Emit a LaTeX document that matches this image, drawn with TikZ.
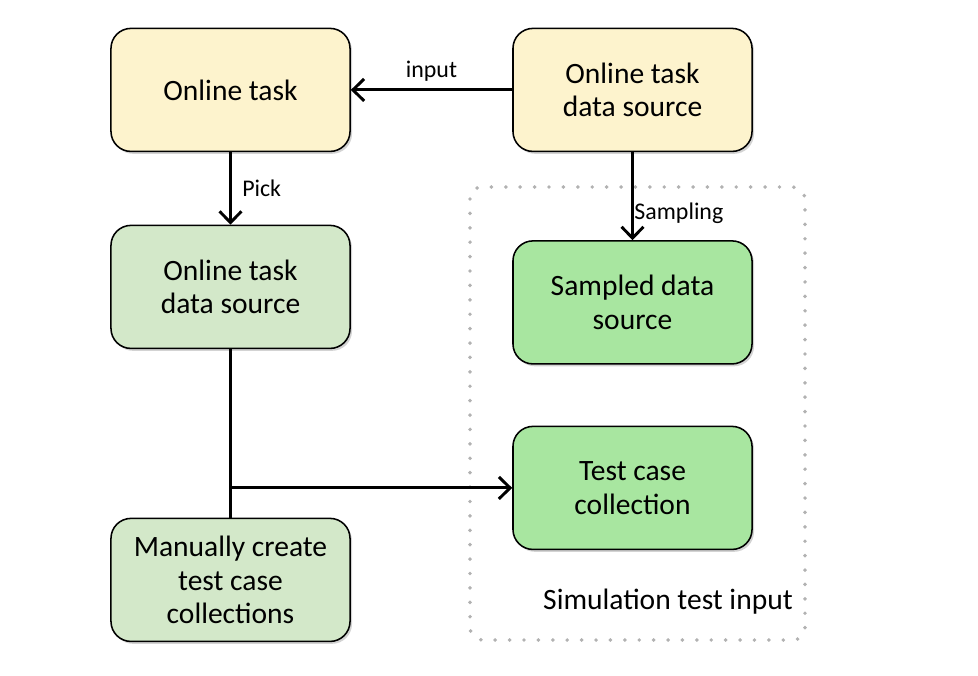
\documentclass[tikz,border=0pt]{standalone}
\usepackage{fontspec}
\setmainfont{Carlito}
\usetikzlibrary{positioning,arrows.meta,shadows}
\definecolor{taskyellow}{RGB}{253,243,205}
\definecolor{palegreen}{RGB}{211,232,201}
\definecolor{brightgreen}{RGB}{168,230,160}
\begin{document}
\begin{tikzpicture}[x=0.025cm,y=-0.025cm,>={Straight Barb[length=2.8mm,width=5.5mm]},
font=\fontsize{21}{24}\selectfont]
   \tikzstyle{box}=[rectangle,rounded corners=0.5cm,draw=black,line width=1.1pt,
      minimum width=5.975cm,minimum height=3.075cm,align=center,yshift=-1pt,
      drop shadow={shadow xshift=0.5mm,shadow yshift=-0.6mm,opacity=0.35}]
   \tikzstyle{conn}=[line width=2.1pt]
   \tikzstyle{lbl}=[font=\fontsize{17}{20}\selectfont]
\useasboundingbox (0,0) rectangle (978,676);
\node[box, fill=taskyellow]  (task)   at (230.5,88.5)  {Online task};
\node[box, fill=taskyellow]  (source) at (632.5,88.5)  {Online task\\data source};
\node[box, fill=palegreen]   (picked) at (230.5,285.5) {Online task\\data source};
\node[box, fill=brightgreen] (sampled) at (632.5,301)  {Sampled data\\source};
\node[box, fill=brightgreen] (tests)  at (632.5,486.5) {Test case\\collection};
\node[box, fill=palegreen]   (manual) at (230.5,578.5) {Manually create\\test case\\collections};

% dotted frame
\draw[gray!60, line width=2.8pt, line cap=round, dash pattern=on 0pt off 0.36cm,
   rounded corners=0.3cm] (470,187) rectangle (805,640);
\node (siminput) at (668,602) {Simulation test input};

\draw[conn,->] (source) -- node[lbl, above, yshift=2pt] {input} (task);
\draw[conn,->] (task) -- node[lbl, right, xshift=4pt] {Pick} (picked);
\draw[conn,->] (source) -- node[lbl, right, xshift=-3pt, pos=0.69] {Sampling} (sampled);
\draw[conn] (picked) -- (manual);
\coordinate (branch) at (picked.south |- tests.west);
\draw[conn,->] (branch) -- (tests);
\end{tikzpicture}
\end{document}
